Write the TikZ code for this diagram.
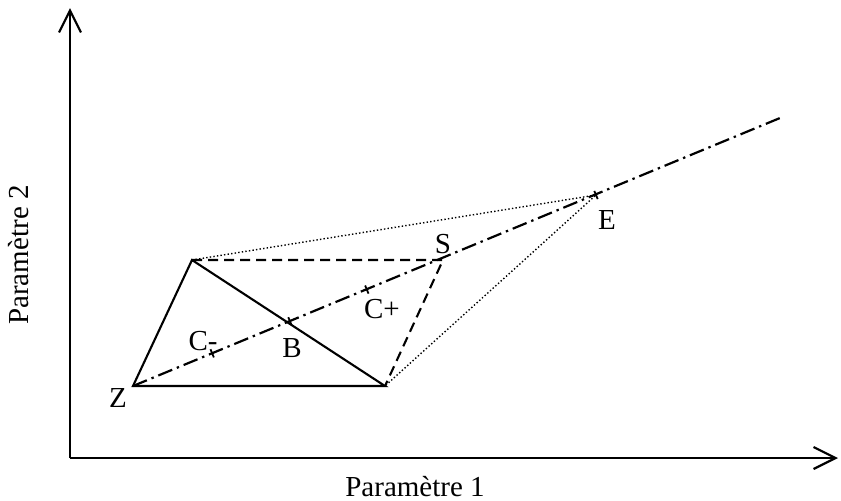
\documentclass[tikz,border=0pt]{standalone}
\usepackage{fontspec}
\setmainfont{Liberation Serif}
\usetikzlibrary{arrows.meta,calc}

\begin{document}
\begin{tikzpicture}[
  x=0.5pt, y=-0.5pt,
  font=\fontsize{14.5}{16}\selectfont,
  axisline/.style  = {-{Straight Barb[length=11pt,width=11pt]}, line width=1.1pt},
  edgeline/.style  = {line width=1.05pt},
  dashline/.style  = {line width=1.05pt, dash pattern=on 5pt off 3pt},
  dotline/.style   = {line width=0.7pt, dash pattern=on 0.7pt off 1.1pt},
  ddotline/.style  = {line width=1.1pt, dash pattern=on 7.5pt off 2.5pt on 1.2pt off 2.5pt},
  tickline/.style  = {line width=0.9pt},
  lab/.style       = {inner sep=0pt}]

\useasboundingbox (0,0) rectangle (841,500);

% axes
\coordinate (O)  at (70,458);
\coordinate (xe) at (838,458);
\coordinate (ye) at (70,8);
\draw[axisline] (O) -- (xe);
\draw[axisline] (O) -- (ye);
\node[lab, anchor=base] (p1) at (415,496) {Paramètre 1};
\node[lab, rotate=90] (p2) at (19,255) {Paramètre 2};

% simplex points
\coordinate (Z) at (133,386);
\coordinate (P) at (385,386);
\coordinate (T) at (192,260);
\coordinate (S) at (443,260);
\coordinate (E) at (596,195);
\coordinate (F) at (780,118);
\coordinate (B)  at ($(Z)!0.339!(E)$);
\coordinate (Cm) at ($(Z)!0.171!(E)$);
\coordinate (Cp) at ($(Z)!0.505!(E)$);

% triangle
\draw[edgeline] (Z) -- (P) -- (T) -- cycle;
% reflection
\draw[dashline] (T) -- (S) -- (P);
% expansion
\draw[dotline] (T) -- (E) -- (P);
% search line through the centroid
\draw[ddotline] (Z) -- (F);

% marks on the line
\foreach \c in {Cm,B,Cp}
  \draw[tickline] ($(\c)!2.2pt!90:(E)$) -- ($(\c)!2.2pt!-90:(E)$);
\draw[tickline] ($(E)!2.2pt!90:(F)$) -- ($(E)!2.2pt!-90:(F)$);

% labels
\node[lab] (lz)  at (118,398) {Z};
\node[lab] (lb)  at (292,348) {B};
\node[lab] (lcm) at (203,341) {C-};
\node[lab] (lcp) at (382,309) {C+};
\node[lab] (ls)  at (443,244) {S};
\node[lab] (le)  at (607,220) {E};

\end{tikzpicture}
\end{document}
